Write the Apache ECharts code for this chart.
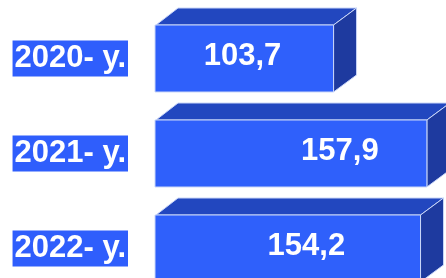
<!DOCTYPE html>
<html>
<head>
<meta charset="utf-8">
<script src="https://cdn.jsdelivr.net/npm/echarts@6/dist/echarts.min.js"></script>
<style>
html, body { margin: 0; padding: 0; background: #fff; }
#chart { width: 446px; height: 278px; }
</style>
</head>
<body>
<div id="chart"></div>
<script>
// years and values
var years = ['2020- y.', '2021- y.', '2022- y.'];
var values = [103.7, 157.9, 154.2];

var myChart = echarts.init(document.getElementById('chart'));

// box depth (px)
var dx = 23, dy = 17;
// where the number sits inside each box (share of the front face)
var labelPos = [0.49, 0.68, 0.57];

var boxData = values.map(function (v, i) {
	return [v, i];
});

function renderBox(params, api) {
	var idx = api.value(1);
	var start = api.coord([0, idx]);
	var end = api.coord([api.value(0), idx]);
	var h = api.size([0, 1])[1] * 0.705;
	var x0 = start[0], x1 = end[0];
	var yt = end[1] - h / 2, yb = end[1] + h / 2;
	var stroke = '#c9d6f8';
	var txt = api.value(0).toFixed(1).replace('.', ',');
	return {
		type: 'group',
		children: [{
				type: 'polygon',
				shape: { points: [[x0 + 1, yt], [x0 + dx, yt - dy], [x1 + dx, yt - dy], [x1, yt]] },
				style: { fill: '#2247bf', stroke: stroke, lineWidth: 1 }
			},
			{
				type: 'polygon',
				shape: { points: [[x1, yt], [x1 + dx, yt - dy], [x1 + dx, yb - dy], [x1, yb]] },
				style: { fill: '#1e3a9f', stroke: stroke, lineWidth: 1 }
			},
			{
				type: 'rect',
				shape: { x: x0, y: yt, width: x1 - x0, height: h },
				style: { fill: '#2f60fb', stroke: stroke, lineWidth: 1 }
			},
			{
				type: 'text',
				style: {
					text: txt,
					x: x0 + (x1 - x0) * labelPos[params.dataIndex],
					y: end[1] - 2,
					fill: '#fff',
					font: 'bold 31px "Liberation Sans", Arial, sans-serif',
					align: 'center',
					verticalAlign: 'middle'
				}
			}
		]
	};
}

option = {
	animation: false,
	grid: {
		left: 155,
		width: 291,
		top: 11,
		height: 285,
		outerBoundsMode: 'none'
	},
	xAxis: {
		type: 'value',
		min: 0,
		max: 169,
		show: false
	},
	yAxis: {
		type: 'category',
		data: years,
		inverse: true,
		axisLine: { show: false },
		axisTick: { show: false },
		splitLine: { show: false },
		axisLabel: {
			margin: 27,
			color: '#fff',
			fontFamily: '"Liberation Sans", Arial, sans-serif',
			fontWeight: 'bold',
			fontSize: 31,
			lineHeight: 36,
			backgroundColor: '#2f5efc',
			padding: [0, 2, 0, 2]
		}
	},
	series: [{
		type: 'custom',
		renderItem: renderBox,
		clip: false,
		encode: { x: 0, y: 1 },
		data: boxData
	}]
};

myChart.setOption(option);
</script>
</body>
</html>
